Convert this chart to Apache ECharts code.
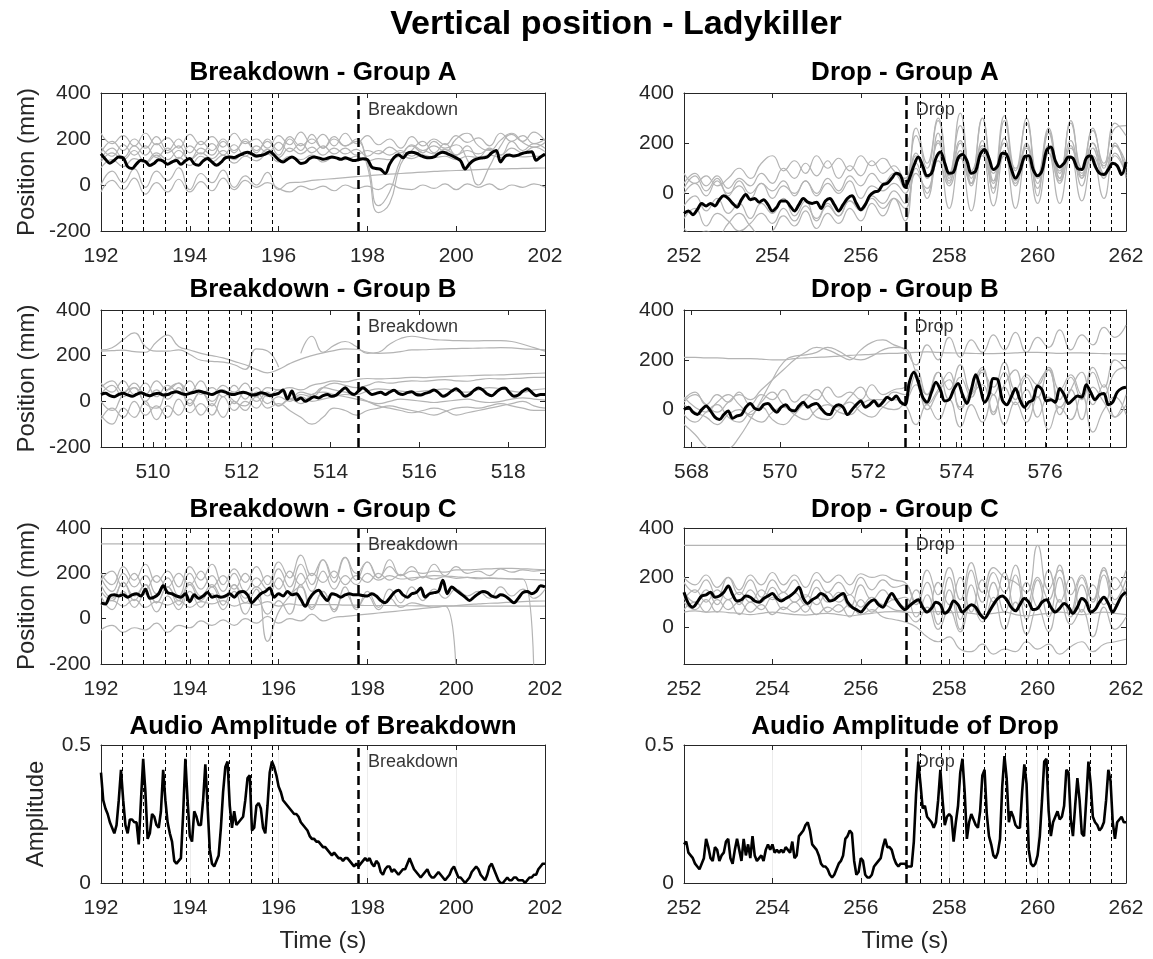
<!DOCTYPE html>
<html>
<head>
<meta charset="utf-8">
<script src="https://cdn.jsdelivr.net/npm/echarts@6/dist/echarts.min.js"></script>
<style>
  html, body { margin: 0; background: #fff; }
  #main { width: 1153px; height: 959px; }
</style>
</head>
<body>
<div id="main"></div>
<script>
// ---- beat markers and event times (s) ----
var bdBeats1 = [192.47, 192.95, 193.44, 193.92, 194.41, 194.89, 195.38, 195.86];
var bdBeats2 = [509.30, 509.78, 510.27, 510.75, 511.24, 511.72, 512.21, 512.69];
var dropBeats1 = [257.35, 257.83, 258.31, 258.79, 259.27, 259.75, 260.23, 260.71, 261.19, 261.67];
var dropBeats2 = [573.15, 573.63, 574.11, 574.59, 575.07, 575.55, 576.03, 576.51, 576.99, 577.47];

// ---- mean position (black), 0.1 s samples over the window ----
var bdA_mean = [135,112,95,108,122,118,80,72,92,108, 102,85,95,110,104,90,100,106,90,105,
  115,92,86,105,115,100,86,98,118,122, 120,128,136,142,135,126,128,134,145,130,
  110,100,112,122,110,94,98,115,122,118, 112,116,122,118,112,118,112,106,110,114,
  110,78,72,68,50,90,120,132,118,138, 142,138,128,120,118,122,136,142,136,128,
  118,105,70,92,108,115,118,122,140,150, 100,125,130,126,130,138,142,145,108,122, 135];
var dpA_mean = [-80,-70,-85,-65,-40,-50,-40,-50,-25,-10, -20,-40,-55,-25,-5,-25,-20,-35,-25,-45,
  -70,-55,-30,-30,-50,-70,-45,-20,-35,-40, -35,-60,-30,-20,-45,-70,-45,-20,-10,-40,
  -65,-45,-10,5,10,35,40,60,80,70, 25,60,110,145,110,70,80,140,165,120,
  80,85,140,155,130,80,90,155,175,140, 95,110,160,155,100,60,90,145,150,95,
  70,90,170,185,130,105,120,145,140,100, 95,140,150,110,80,75,95,120,110,75, 125];
var bdB_mean = [30,35,25,20,30,35,28,22,30,38, 30,25,32,35,28,30,38,42,35,30,
  35,40,45,40,35,30,38,45,40,32, 30,36,40,35,28,30,38,34,25,30,
  35,50,10,45,5,15,0,10,20,15, 25,30,22,28,45,60,40,30,45,60,
  45,30,35,40,30,40,48,35,30,38, 42,30,28,35,40,50,38,22,30,45,
  55,40,22,30,48,58,50,32,25,40, 55,58,38,22,28,45,55,40,25,30, 30];
var dpB_mean = [0,10,-10,-20,0,15,-5,-30,-40,-20, -5,-35,-25,-20,10,25,5,0,20,25,
  5,-10,10,20,0,-5,15,30,10,20, 25,5,-15,-20,10,20,10,-20,0,20,
  35,10,20,35,15,30,50,40,55,30, 20,110,150,110,50,30,70,110,80,35,
  40,80,105,60,25,80,140,90,30,60, 125,120,40,20,50,85,40,10,30,40,
  95,80,35,40,30,85,60,25,40,55, 50,100,70,40,60,65,20,30,70,85, 90];
var bdC_mean = [70,65,100,105,100,105,95,105,110,100, 130,90,95,110,145,115,110,100,95,110,
  75,105,90,100,115,95,100,95,100,110, 95,115,120,105,70,90,110,120,135,95,
  110,100,120,105,110,85,55,90,115,125, 100,80,110,105,95,105,110,105,105,102,
  100,110,100,80,70,90,115,125,105,95, 110,115,135,95,110,115,120,170,110,140,
  125,110,95,80,95,110,120,115,100,95, 105,100,85,70,90,115,120,110,120,145, 140];
var dpC_mean = [140,95,80,100,125,130,140,120,125,140, 165,130,105,110,125,120,105,100,115,125,
  135,115,105,115,125,140,160,115,95,110, 120,135,125,105,110,125,135,100,80,70,
  60,80,100,110,90,80,110,135,110,85, 70,85,100,110,80,60,75,100,90,55,
  70,105,90,60,75,90,80,50,35,60, 90,115,125,110,80,65,90,115,100,70,
  75,100,110,80,60,75,95,80,55,80, 115,100,60,70,100,120,95,60,90,125, 140];

// ---- audio amplitude (black), 0.05 s samples ----
var ampBreakdown = [
  0.40,0.30,0.27,0.25,0.22,0.20,0.18,0.21,0.30,0.41, 0.30,0.21,0.18,0.23,0.23,0.22,0.22,0.14,0.30,0.45,
  0.33,0.16,0.18,0.25,0.24,0.21,0.20,0.26,0.41,0.30, 0.22,0.18,0.15,0.08,0.07,0.08,0.09,0.25,0.45,0.30,
  0.17,0.15,0.26,0.24,0.21,0.21,0.30,0.43,0.28,0.12, 0.07,0.06,0.08,0.10,0.20,0.33,0.42,0.44,0.28,0.20,
  0.26,0.21,0.22,0.23,0.24,0.30,0.38,0.39,0.19,0.20, 0.28,0.29,0.27,0.20,0.18,0.28,0.40,0.44,0.42,0.39,
  0.35,0.33,0.30,0.29,0.28,0.27,0.26,0.25,0.25,0.24, 0.22,0.21,0.20,0.19,0.17,0.16,0.16,0.15,0.15,0.14,
  0.13,0.13,0.12,0.11,0.10,0.11,0.10,0.09,0.09,0.08, 0.09,0.09,0.08,0.07,0.06,0.07,0.06,0.07,0.08,0.09,
  0.08,0.09,0.07,0.06,0.08,0.07,0.04,0.03,0.05,0.06, 0.06,0.04,0.05,0.04,0.03,0.04,0.05,0.05,0.07,0.09,
  0.07,0.05,0.04,0.03,0.02,0.03,0.04,0.05,0.03,0.02, 0.02,0.03,0.04,0.03,0.02,0.01,0.02,0.03,0.05,0.06,
  0.04,0.02,0.02,0.01,0.00,0.01,0.02,0.04,0.05,0.06, 0.05,0.03,0.02,0.01,0.03,0.06,0.07,0.05,0.03,0.01,
  0.00,0.00,0.01,0.02,0.01,0.01,0.02,0.02,0.01,0.01, 0.01,0.00,0.01,0.02,0.02,0.03,0.03,0.05,0.06,0.07,
  0.07];
var ampDrop = [
  0.14,0.15,0.11,0.10,0.09,0.07,0.06,0.05,0.07,0.09, 0.16,0.13,0.09,0.08,0.13,0.12,0.08,0.10,0.11,0.15,
  0.16,0.09,0.07,0.12,0.16,0.12,0.08,0.16,0.10,0.14, 0.09,0.17,0.10,0.08,0.09,0.10,0.08,0.12,0.14,0.12,
  0.14,0.11,0.12,0.11,0.12,0.11,0.13,0.12,0.11,0.15, 0.09,0.10,0.17,0.18,0.19,0.21,0.22,0.19,0.14,0.13,
  0.12,0.10,0.07,0.06,0.06,0.05,0.03,0.02,0.03,0.05, 0.07,0.08,0.10,0.16,0.17,0.19,0.18,0.08,0.03,0.04,
  0.09,0.08,0.03,0.02,0.02,0.03,0.06,0.07,0.08,0.09, 0.13,0.16,0.13,0.13,0.12,0.09,0.07,0.06,0.07,0.07,
  0.07,0.06,0.06,0.06,0.15,0.32,0.44,0.36,0.27,0.28, 0.24,0.23,0.22,0.20,0.22,0.30,0.41,0.30,0.21,0.24,
  0.25,0.24,0.15,0.22,0.28,0.40,0.45,0.33,0.16,0.22, 0.25,0.23,0.21,0.20,0.26,0.39,0.41,0.25,0.17,0.14,
  0.10,0.09,0.11,0.16,0.35,0.46,0.38,0.22,0.26,0.24, 0.21,0.20,0.20,0.33,0.43,0.36,0.12,0.07,0.06,0.07,
  0.10,0.17,0.30,0.44,0.45,0.26,0.17,0.22,0.24,0.26, 0.23,0.24,0.28,0.41,0.40,0.23,0.17,0.28,0.38,0.30,
  0.18,0.17,0.30,0.44,0.36,0.24,0.22,0.21,0.19,0.20, 0.22,0.30,0.41,0.37,0.22,0.16,0.22,0.23,0.24,0.22,
  0.22];

// ---- individual dancers (grey), 0.25 s samples over the window ----
var bdA_g1 = [225,180,215,170,225,175,205,160,220,175, 210,165,225,180,200,160,215,175,230,180, 220,170,225,180,215,175,200,160,210,170, 200,175,215,185,205,170,225,190,215,180, 200];
var bdA_g2 = [165,125,175,130,170,120,160,115,170,135, 180,130,175,125,170,140,185,145,180,140, 170,135,160,130,150,135,165,140,175,150, 170,145,200,225,170,150,195,225,185,165, 185];
var bdA_g3 = [75,110,80,115,95,130,90,120,85,125, 100,130,95,125,105,135,100,125,110,130, 100,120,110,125,105,115,110,125,115,130, 120,125,110,125,120,130,120,128,122,125, 125];
var bdA_g4 = [0,60,10,70,-10,60,20,75,-20,50, 10,65,-10,40,0,55,-20,10,12,20, 24,28,32,36,40,44,47,50,53,56, 59,61,63,65,67,69,70,71,72,73, 74];
var bdA_g5 = [-30,20,-20,30,-40,10,-30,25,-30,15, -25,30,-20,20,-10,10,-15,-30,-5,-20, -5,-25,0,-15,-5,-20,5,-15,-20,0, -15,5,-20,5,-10,5,-20,0,-10,5, -10];
var bdA_g6 = [110,160,120,170,130,180,140,170,110,160, 130,190,140,200,150,190,130,200,150,220, 160,210,170,200,80,-120,-80,90,150,190, 140,180,130,170,120,160,130,190,150,180, 160];
var bdA_g7 = [140,190,150,200,160,210,150,200,140,190, 150,200,150,190,140,200,150,210,170,200, 160,200,170,190,100,-90,-30,110,170,140, 190,160,175,110,0,80,170,220,190,230, 190];
var bdA_g8 = [100,140,110,150,100,140,110,150,110,140, 115,150,110,145,120,155,120,160,135,165, 130,160,135,155,125,150,130,150,125,150, 135,155,130,150,135,155,130,160,140,165, 145];

var dpA_g1 = [80,40,70,30,60,100,60,120,150,90, 130,80,150,100,140,90,150,110,140,90, 60,260,120,300,60,320,40,300,0,290, 60,300,-10,250,80,290,60,260,100,280, 230];
var dpA_g2 = [40,80,30,70,20,60,30,80,40,100, 60,120,70,130,60,110,70,130,80,110, 50,230,100,290,80,270,60,300,50,310, 90,280,70,260,60,280,100,250,120,260, 270];
var dpA_g3 = [0,40,-10,50,0,30,-20,40,10,50, -10,50,0,60,10,70,30,80,40,80, 20,160,60,200,70,210,90,190,80,200, 100,180,70,190,90,180,80,200,110,190, 120];
var dpA_g4 = [-50,-10,-70,-20,-80,-40,-100,-40,-80,-20, -90,-30,-110,-50,-90,-30,-60,-10,-40,10, -40,120,-20,160,-60,150,-70,160,-50,170, -60,150,-40,160,-40,150,-30,140,-20,150, 80];
var dpA_g5 = [-100,-60,-130,-80,-110,-150,-120,-80,-120,-60, -110,-50,-100,-40,-90,-30,-70,-20,-60,-20, -60,80,20,130,30,140,40,150,50,150, 40,140,60,160,50,150,60,150,70,160, 70];
var dpA_g6 = [-140,-170,-150,-170,-120,-80,-130,-170,-150,-90, -130,-70,-140,-80,-120,-60,-110,-40,-90,-20, -110,100,0,240,40,200,30,210,40,220, 50,200,40,240,60,210,70,200,80,200, 60];
var dpA_g7 = [20,70,10,60,-10,50,0,40,-20,30, 0,50,-10,40,0,50,-20,30,10,40, 0,150,60,210,50,170,40,180,20,170, 30,190,20,180,40,190,30,180,60,190, 100];

var bdB_g1 = [225,235,270,300,240,220,220,225,205,180, 175,172,160,140,230,220,150,null,210,285, 215,245,262,240,210,215,250,275,285,278, 270,268,266,265,265,266,266,262,250,235, 220];
var bdB_g2 = [220,222,224,218,215,260,290,240,225,210, 200,190,175,160,140,125,140,165,185,200, 212,222,230,228,215,210,212,218,225,226, 228,230,231,232,233,234,235,234,230,228, 225];
var bdB_g3 = [60,90,40,80,30,90,50,80,40,90, 30,70,40,80,20,60,50,60,50,70, 80,90,85,95,100,98,100,102,105,104, 106,108,110,112,114,115,116,118,120,122, 124];
var bdB_g4 = [0,-40,30,60,-10,-30,50,80,-10,40, -20,50,0,-20,40,-10,20,0,30,20, 60,80,70,60,70,85,80,85,90,88, 92,95,90,88,95,100,98,100,102,105, 105];
var bdB_g5 = [-60,-100,-30,-70,0,-80,-20,-60,10,-60, -10,-70,0,-40,20,-30,-10,-40,-70,-100, -70,-30,-40,-60,-40,-30,-20,-30,-40,-50, -60,-45,-30,-25,-30,-20,-10,-20,-30,-40, -40];
var bdB_g6 = [30,70,20,60,0,50,10,60,-20,40, 0,50,-10,40,0,40,-20,10,20,0, 10,20,30,20,0,-20,-30,-40,-50,-40, -30,-40,-60,-50,-40,-30,-20,-10,0,-20, -30];
var bdB_g7 = [-80,-30,-70,0,-60,-20,-70,10,-50,-10, -60,20,-40,0,-30,30,-20,10,-10,30, 40,30,20,10,0,-10,0,10,5,0, -5,0,5,10,0,-5,0,10,15,10, 5];
var bdB_g8 = [80,40,90,30,80,20,70,40,90,30, 60,20,70,10,60,20,50,10,40,30, 60,50,40,30,45,55,50,45,40,45, 50,55,45,40,50,60,55,45,40,50, 55];

var dpB_g1 = [210,210,208,208,205,205,205,203,200,200, 205,208,210,212,215,218,220,222,225,226, 228,230,232,230,228,227,226,225,225,226, 228,230,230,228,226,228,228,226,225,224, 224];
var dpB_g2 = [30,60,20,-10,30,60,40,80,120,160, 200,230,250,240,220,200,240,270,280,260, 240,180,260,200,290,210,280,230,300,240, 310,230,290,250,320,240,300,260,330,290, 340];
var dpB_g3 = [-60,-100,-150,-170,-160,-110,-40,40,120,190, 215,220,230,250,235,210,200,215,240,250, 245,150,60,150,40,130,50,160,60,150, 40,130,50,160,40,130,40,150,60,150, 170];
var dpB_g4 = [50,10,-10,30,60,20,-20,30,70,20, 0,40,80,30,10,50,90,40,40,70, 60,140,20,80,150,0,90,170,-10,100, 160,0,100,160,-20,80,150,20,100,-30, 60];
var dpB_g5 = [-20,-50,-10,20,-30,-50,-10,10,-40,-60, -20,20,-30,-40,0,30,-10,-30,10,40, 20,-60,20,-40,40,-70,20,-50,60,-60, 30,-50,50,-80,10,-40,60,-90,0,50, -20];
var dpB_g6 = [20,-10,-30,-60,-20,0,-30,-50,-10,10, -20,-40,0,20,-10,-20,20,40,10,0, 30,100,0,70,120,10,60,100,-20,90, 20,80,-30,50,10,80,-40,90,30,-30, 20];
var dpB_g7 = [40,70,20,60,30,70,20,60,40,80, 30,60,40,90,50,70,40,100,60,80, 90,160,60,150,80,180,70,150,90,190, 80,140,100,170,80,140,60,170,90,200, 160];

var bdC_h0 = [330, 330];
var bdC_g1 = [200,150,230,170,240,160,210,140,230,170, 240,150,220,160,230,150,250,180,280,190, 260,180,270,200,250,180,260,190,230,180, 240,190,230,200,210,190,220,205,215,210, 215];
var bdC_g2 = [180,120,200,140,190,110,180,100,200,130, 190,120,200,120,180,130,220,140,240,150, 260,160,270,170,250,180,230,190,210,200, 210,205,215,215,218,220,222,222,220,218, 215];
var bdC_g3 = [120,80,160,100,150,70,140,80,160,100, 150,90,150,90,140,100,180,110,200,120, 210,130,190,150,200,170,190,175,180,185, 190,188,185,182,180,178,176,175,174,172, 170];
var bdC_g4 = [100,40,120,50,110,30,100,40,120,50, 110,40,120,20,90,20,80,20,150,40, 120,30,140,40,120,50,130,70,140,80, 130,90,130,100,120,90,140,100,130,90, 130];
var bdC_g5 = [-50,-30,-60,-40,-50,-20,-60,-30,-40,-10, -30,-5,-30,0,-20,10,-20,0,-10,20, -10,5,10,15,20,25,30,35,40,45, 50,55,58,62,65,68,70,73,75,77, 78];
var bdC_g6 = [60,80,55,85,50,75,60,80,50,75, 65,80,55,70,60,75,55,65,60,62, 62,62,60,60,58,58,58,57,57,56, 56,56,55,55,55,55,55,55,55,55, 55];
var bdC_g7 = [150,90,160,80,150,70,140,60,150,80, 140,60,150,70,130,-100,30,100,140,50, 120,40,110,50,100,40,90,50,70,60, 50,55,-260,null,null,null,null,null,null,null, null];
var bdC_g8 = [170,210,140,200,130,190,140,200,150,210, 140,190,130,200,140,190,130,210,150,200, 160,210,150,190,160,200,170,195,170,185, 175,185,178,182,176,180,178,176,175,-260, null];

var dpC_h0 = [330, 330];
var dpC_g1 = [200,170,210,160,200,150,210,170,220,170, 210,160,220,180,210,170,215,200,210,190, 180,100,230,130,240,110,260,140,240,200, 180,140,330,150,230,130,210,110,230,150, 230];
var dpC_g2 = [180,140,190,120,200,130,190,120,190,140, 190,120,190,140,180,130,200,150,190,160, 170,90,180,50,200,30,230,100,220,140, 250,80,200,110,250,60,200,100,240,110, 190];
var dpC_g3 = [140,100,150,90,160,90,150,100,160,110, 140,90,160,100,140,80,170,110,150,110, 120,40,130,10,150,-10,170,50,180,60, 210,30,190,40,200,40,170,60,210,90, 160];
var dpC_g4 = [100,70,110,60,110,50,100,70,120,70, 100,60,120,60,90,40,110,60,90,70, 60,20,80,-10,70,-20,90,20,120,-10, 100,-30,80,-20,110,10,70,-40,80,-10, 40];
var dpC_g5 = [60,65,60,62,58,55,50,55,60,55, 50,48,52,55,50,45,50,55,60,62, 60,58,60,62,58,60,55,50,55,60, 50,45,50,55,60,55,50,55,60,55, 50];
var dpC_g6 = [70,100,60,110,70,100,60,90,50,80, 60,90,50,80,60,90,50,70,40,30, 20,0,-40,-60,-40,-90,-100,-70,-110,-90, -100,-60,-90,-70,-110,-80,-60,-100,-70,-60, -50];
var dpC_g7 = [110,150,100,150,110,140,100,150,110,140, 100,130,90,140,100,130,80,120,90,110, 80,150,60,180,90,200,60,190,100,220, 70,180,80,230,100,200,60,170,90,200, 120];

// ---- tick labels ----
var ticksBd1 = [192, 194, 196, 198, 200, 202];
var ticksBd2 = [510, 512, 514, 516, 518];
var ticksDrop1 = [252, 254, 256, 258, 260, 262];
var ticksDrop2 = [568, 570, 572, 574, 576];
var ticksPosLeft = [-200, 0, 200, 400];
var ticksPosRight = [0, 200, 400];
var ticksAmp = [0, 0.5];

var FONT = '"Liberation Sans", Arial, Helvetica, sans-serif';
var INK = '#262626';
var GREY = '#b4b4b4';

var colLeft = [101, 684], colWidth = [444, 442];
var rowTop = [93, 310, 528, 745], rowHeight = [138, 137, 136, 138];
var titleTop = [60, 277, 497, 714];

var panels = [
  { title: 'Breakdown - Group A', row: 0, col: 0, x: [192, 202], xTicks: ticksBd1, y: [-200, 400], yTicks: ticksPosLeft,
    yName: 'Position (mm)', event: 197.8, eventName: 'Breakdown', labelY: 326, beats: bdBeats1,
    mean: bdA_mean, grey: [bdA_g1, bdA_g2, bdA_g3, bdA_g4, bdA_g5, bdA_g6, bdA_g7, bdA_g8] },
  { title: 'Drop - Group A', row: 0, col: 1, x: [252, 262], xTicks: ticksDrop1, y: [-150, 400], yTicks: ticksPosRight,
    yName: '', event: 257.03, eventName: 'Drop', labelY: 332, beats: dropBeats1,
    mean: dpA_mean, grey: [dpA_g1, dpA_g2, dpA_g3, dpA_g4, dpA_g5, dpA_g6, dpA_g7] },
  { title: 'Breakdown - Group B', row: 1, col: 0, x: [508.83, 518.83], xTicks: ticksBd2, y: [-200, 400], yTicks: ticksPosLeft,
    yName: 'Position (mm)', event: 514.63, eventName: 'Breakdown', labelY: 326, beats: bdBeats2,
    mean: bdB_mean, grey: [bdB_g1, bdB_g2, bdB_g3, bdB_g4, bdB_g5, bdB_g6, bdB_g7, bdB_g8] },
  { title: 'Drop - Group B', row: 1, col: 1, x: [567.83, 577.83], xTicks: ticksDrop2, y: [-150, 400], yTicks: ticksPosRight,
    yName: '', event: 572.83, eventName: 'Drop', labelY: 332, beats: dropBeats2,
    mean: dpB_mean, grey: [dpB_g1, dpB_g2, dpB_g3, dpB_g4, dpB_g5, dpB_g6, dpB_g7] },
  { title: 'Breakdown - Group C', row: 2, col: 0, x: [192, 202], xTicks: ticksBd1, y: [-200, 400], yTicks: ticksPosLeft,
    yName: 'Position (mm)', event: 197.8, eventName: 'Breakdown', labelY: 326, beats: bdBeats1,
    mean: bdC_mean, grey: [bdC_h0, bdC_g1, bdC_g2, bdC_g3, bdC_g4, bdC_g5, bdC_g6, bdC_g7, bdC_g8] },
  { title: 'Drop - Group C', row: 2, col: 1, x: [252, 262], xTicks: ticksDrop1, y: [-150, 400], yTicks: ticksPosRight,
    yName: '', event: 257.03, eventName: 'Drop', labelY: 332, beats: dropBeats1,
    mean: dpC_mean, grey: [dpC_h0, dpC_g1, dpC_g2, dpC_g3, dpC_g4, dpC_g5, dpC_g6, dpC_g7] },
  { title: 'Audio Amplitude of Breakdown', row: 3, col: 0, x: [192, 202], xTicks: ticksBd1, y: [0, 0.5], yTicks: ticksAmp,
    yName: 'Amplitude', event: 197.8, eventName: 'Breakdown', labelY: 0.438, beats: bdBeats1,
    mean: ampBreakdown, grey: [], audio: true },
  { title: 'Audio Amplitude of Drop', row: 3, col: 1, x: [252, 262], xTicks: ticksDrop1, y: [0, 0.5], yTicks: ticksAmp,
    yName: '', event: 257.03, eventName: 'Drop', labelY: 0.438, beats: dropBeats1,
    mean: ampDrop, grey: [], audio: true }
];

// sample times: values are evenly sampled across each panel's window
function withTimes(range, vals) {
  var n = vals.length, out = [];
  for (var i = 0; i < n; i++) {
    out.push([range[0] + (range[1] - range[0]) * i / (n - 1), vals[i]]);
  }
  return out;
}

var option = {
  animation: false,
  backgroundColor: '#fff',
  title: [{
    text: 'Vertical position - Ladykiller', left: 616, top: 8, textAlign: 'center', padding: 0,
    textStyle: { fontFamily: FONT, fontSize: 34, fontWeight: 'bold', color: '#000' }
  }],
  grid: [], xAxis: [], yAxis: [], series: []
};

panels.forEach(function (p, i) {
  var left = colLeft[p.col], w = colWidth[p.col];
  option.grid.push({ left: left, top: rowTop[p.row], width: w, height: rowHeight[p.row] });
  option.title.push({
    text: p.title, left: left + w / 2, top: titleTop[p.row], textAlign: 'center', padding: 0,
    textStyle: { fontFamily: FONT, fontSize: 26, fontWeight: 'bold', color: '#000' }
  });

  var line = { onZero: false, lineStyle: { color: INK, width: 1 } };
  var tick = function (vals) { return { inside: true, length: 5, customValues: vals, lineStyle: { color: INK } }; };

  option.xAxis.push({
    gridIndex: i, type: 'value', position: 'bottom', min: p.x[0], max: p.x[1],
    axisLine: line, axisTick: tick(p.xTicks),
    axisLabel: { customValues: p.xTicks, fontFamily: FONT, fontSize: 21, color: INK, margin: 15 },
    splitLine: { show: !!p.audio, lineStyle: { color: '#ececec', width: 1 } },
    name: p.row === 3 ? 'Time (s)' : '', nameLocation: 'middle', nameGap: 46,
    nameTextStyle: { fontFamily: FONT, fontSize: 24, color: INK }
  });
  option.xAxis.push({
    gridIndex: i, type: 'value', position: 'top', min: p.x[0], max: p.x[1],
    axisLine: line, axisTick: tick(p.xTicks), axisLabel: { show: false }, splitLine: { show: false }
  });
  option.yAxis.push({
    gridIndex: i, type: 'value', position: 'left', min: p.y[0], max: p.y[1],
    axisLine: line, axisTick: tick(p.yTicks),
    axisLabel: { customValues: p.yTicks, fontFamily: FONT, fontSize: 21, color: INK, margin: 10 },
    splitLine: { show: false },
    name: p.yName, nameLocation: 'middle', nameGap: p.audio ? 53 : 62,
    nameTextStyle: { fontFamily: FONT, fontSize: 24, color: INK }
  });
  option.yAxis.push({
    gridIndex: i, type: 'value', position: 'right', min: p.y[0], max: p.y[1],
    axisLine: line, axisTick: tick(p.yTicks), axisLabel: { show: false }, splitLine: { show: false }
  });

  var xi = 2 * i, yi = 2 * i;
  p.grey.forEach(function (g) {
    option.series.push({
      type: 'line', xAxisIndex: xi, yAxisIndex: yi, data: withTimes(p.x, g),
      symbol: 'none', smooth: 0.5, silent: true, z: 2,
      lineStyle: { color: GREY, width: 1.2 }
    });
  });
  option.series.push({
    type: 'line', xAxisIndex: xi, yAxisIndex: yi, data: withTimes(p.x, p.mean),
    symbol: 'none', smooth: p.audio ? false : 0.35, silent: true, z: 5,
    lineStyle: { color: '#000', width: p.audio ? 2.6 : 3 }
  });

  // event line, beat markers and the event label
  var marks = [{ xAxis: p.event, lineStyle: { color: '#000', width: 2.5, type: [9, 5] } }];
  p.beats.forEach(function (b) {
    marks.push({ xAxis: b, lineStyle: { color: '#000', width: 1, type: [4, 3] } });
  });
  option.series.push({
    type: 'scatter', xAxisIndex: xi, yAxisIndex: yi, data: [[p.event, p.labelY]],
    symbolSize: 1, itemStyle: { color: 'rgba(0,0,0,0)' }, silent: true, z: 6,
    label: { show: true, position: 'right', distance: 9, formatter: p.eventName,
      fontFamily: FONT, fontSize: 18, color: '#000' },
    markLine: { symbol: ['none', 'none'], silent: true, label: { show: false }, data: marks }
  });
});

var chart = echarts.init(document.getElementById('main'), null, { renderer: 'canvas' });
chart.setOption(option);
</script>
</body>
</html>
